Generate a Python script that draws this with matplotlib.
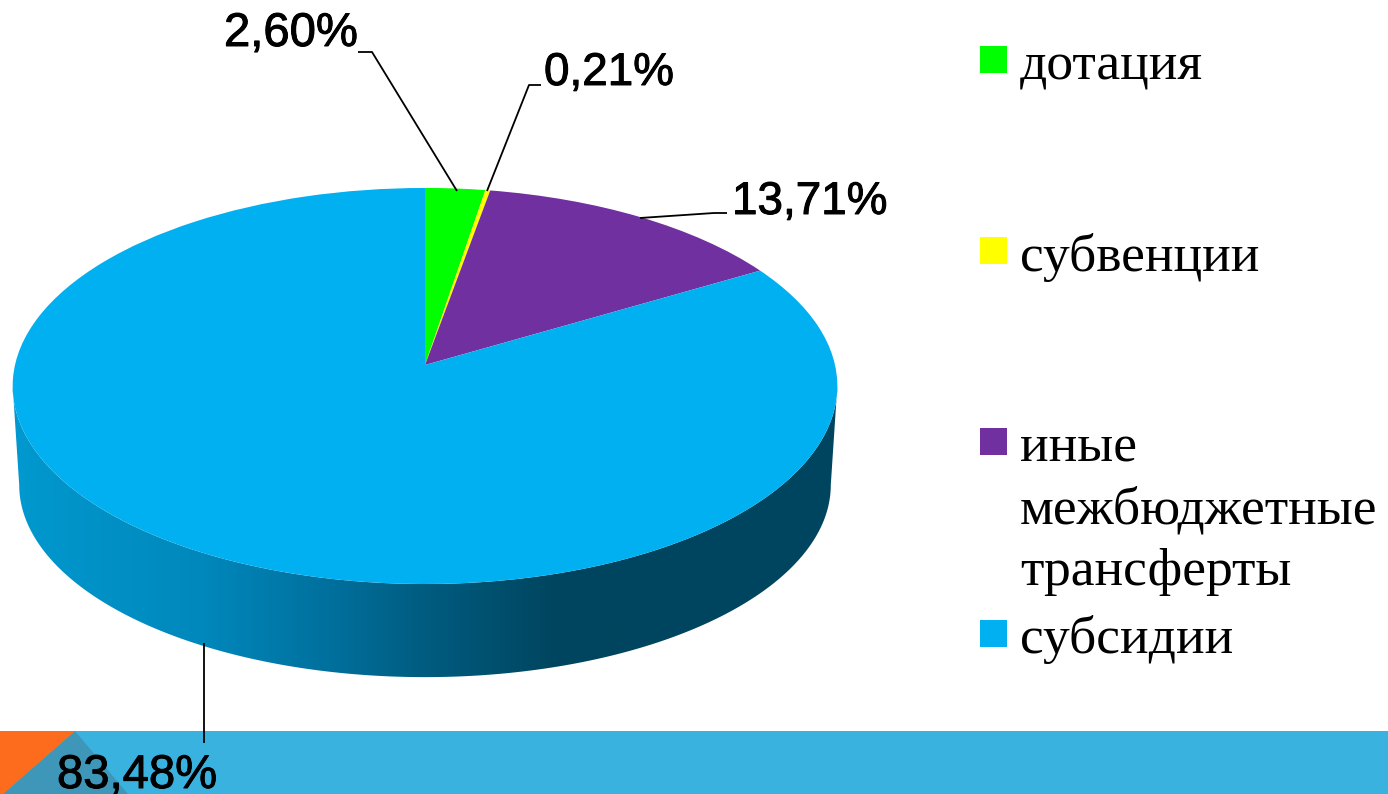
import numpy as np
import matplotlib
matplotlib.use("Agg")
import matplotlib.pyplot as plt
import matplotlib.patheffects as pe
from matplotlib.path import Path
from matplotlib.transforms import Transform
from matplotlib.patches import Polygon, Rectangle
from matplotlib.colors import LinearSegmentedColormap

# ---- data ----
categories = ["дотация", "субвенции", "иные\nмежбюджетные\nтрансферты", "субсидии"]
values = [2.60, 0.21, 13.71, 83.48]
value_labels = ["2,60%", "0,21%", "13,71%", "83,48%"]
colors = ["#00FF00", "#FFFF00", "#7030A0", "#00B0F0"]

# ---- layout (pixels) ----
W, H = 1388, 794
CX, CY_TOP = 425, 386
label_xy = [(224, 46), (544, 85), (732, 214), (57, 788)]
label_size = [34, 33, 33, 34]
leaders = [[(358, 52), (372, 52), (457, 191)],
           [(541, 85), (529, 85), (487, 191)],
           [(727, 213), (714, 213), (640, 218)],
           [(204, 643), (204, 743)]]
legend_marker_y = [46, 237, 428, 620]
legend_text_base = [79, 271, 462, 653]
legend_line_gap = 61.5


class Tilt(Transform):
    """Perspective view of the unit disc, in pixel coordinates."""
    input_dims = output_dims = 2
    is_affine = False

    def __init__(self, cx, cy, sx, sy, b):
        super().__init__()
        self.cx, self.cy, self.sx, self.sy, self.b = cx, cy, sx, sy, b

    def transform_non_affine(self, xy):
        xy = np.asarray(xy, float)
        d = 1 + self.b * xy[:, 1]
        return np.column_stack([self.cx + self.sx * xy[:, 0] / d,
                                self.cy - self.sy * xy[:, 1] / d])

    def transform_path_non_affine(self, path):
        return Path(self.transform_non_affine(path.vertices), path.codes)


B = 0.106
top_view = Tilt(CX, CY_TOP - 21.0, 410, 195.8, B)   # apex sits above the rim centre
lower_view = Tilt(CX, CY_TOP + 78.6, 403.5, 190.0, B)

fig = plt.figure(figsize=(W / 100, H / 100), dpi=100)
ax = fig.add_axes([0, 0, 1, 1])

wedges, _ = ax.pie(values, colors=colors, startangle=90, counterclock=False, radius=1.0)
for w in wedges:
    w.set_transform(top_view + ax.transData)
    w.set_edgecolor("none")
    w.set_zorder(5)

ax.set_aspect("auto")
ax.axis("off")

# ---- side wall with horizontal gradient ----
t0 = np.arcsin(B)
t = np.linspace(np.pi + t0, 2 * np.pi - t0, 240)
ring = np.column_stack([np.cos(t), np.sin(t)])
upper = top_view.transform_non_affine(ring)
lower = lower_view.transform_non_affine(ring)
wall = Polygon(np.vstack([upper, lower[::-1]]), closed=True, transform=ax.transData,
               facecolor="none", edgecolor="none")
ax.add_patch(wall)
cmap = LinearSegmentedColormap.from_list("side", [
    (0.00, "#0099CF"), (0.228, "#0088BC"), (0.39, "#006F9C"),
    (0.50, "#005C80"), (0.66, "#00455F"), (1.00, "#00455F")])
grad = ax.imshow(np.linspace(0, 1, 512)[None, :], cmap=cmap, vmin=0, vmax=1, aspect="auto",
                 extent=(12, 838, 700, 380), zorder=2, interpolation="bilinear")
grad.set_clip_path(wall)
ax.set_xlim(0, W)
ax.set_ylim(H, 0)

# ---- bottom band ----
ax.add_patch(Rectangle((0, 731), W, 63, facecolor="#3AB2E0", edgecolor="none", zorder=1))
ax.add_patch(Polygon([(75, 731), (128, 794), (3, 794)], facecolor="#3E97B8", edgecolor="none", zorder=1.1))
ax.add_patch(Polygon([(0, 731), (75, 731), (3, 794), (0, 794)], facecolor="#FC6C1C", edgecolor="none", zorder=1.2))

# ---- leaders and value labels ----
for pts, txt, (x, y), fs in zip(leaders, value_labels, label_xy, label_size):
    xs, ys = zip(*pts)
    ax.plot(xs, ys, color="black", lw=1.3, zorder=6, solid_capstyle="butt")
    ax.text(x, y, txt, fontsize=fs, family="Liberation Sans", color="black",
            ha="left", va="baseline", zorder=7,
            path_effects=[pe.withStroke(linewidth=0.7, foreground="black")])

# ---- legend ----
for cat, col, my, by in zip(categories, colors, legend_marker_y, legend_text_base):
    ax.add_patch(Rectangle((980, my), 27, 27, facecolor=col, edgecolor="none", zorder=6))
    for i, line in enumerate(cat.split("\n")):
        ax.text(1020, by + i * legend_line_gap, line, fontsize=38.5, family="Liberation Serif",
                color="black", ha="left", va="baseline", zorder=7)

fig.savefig("out.png", dpi=100, facecolor="white")
